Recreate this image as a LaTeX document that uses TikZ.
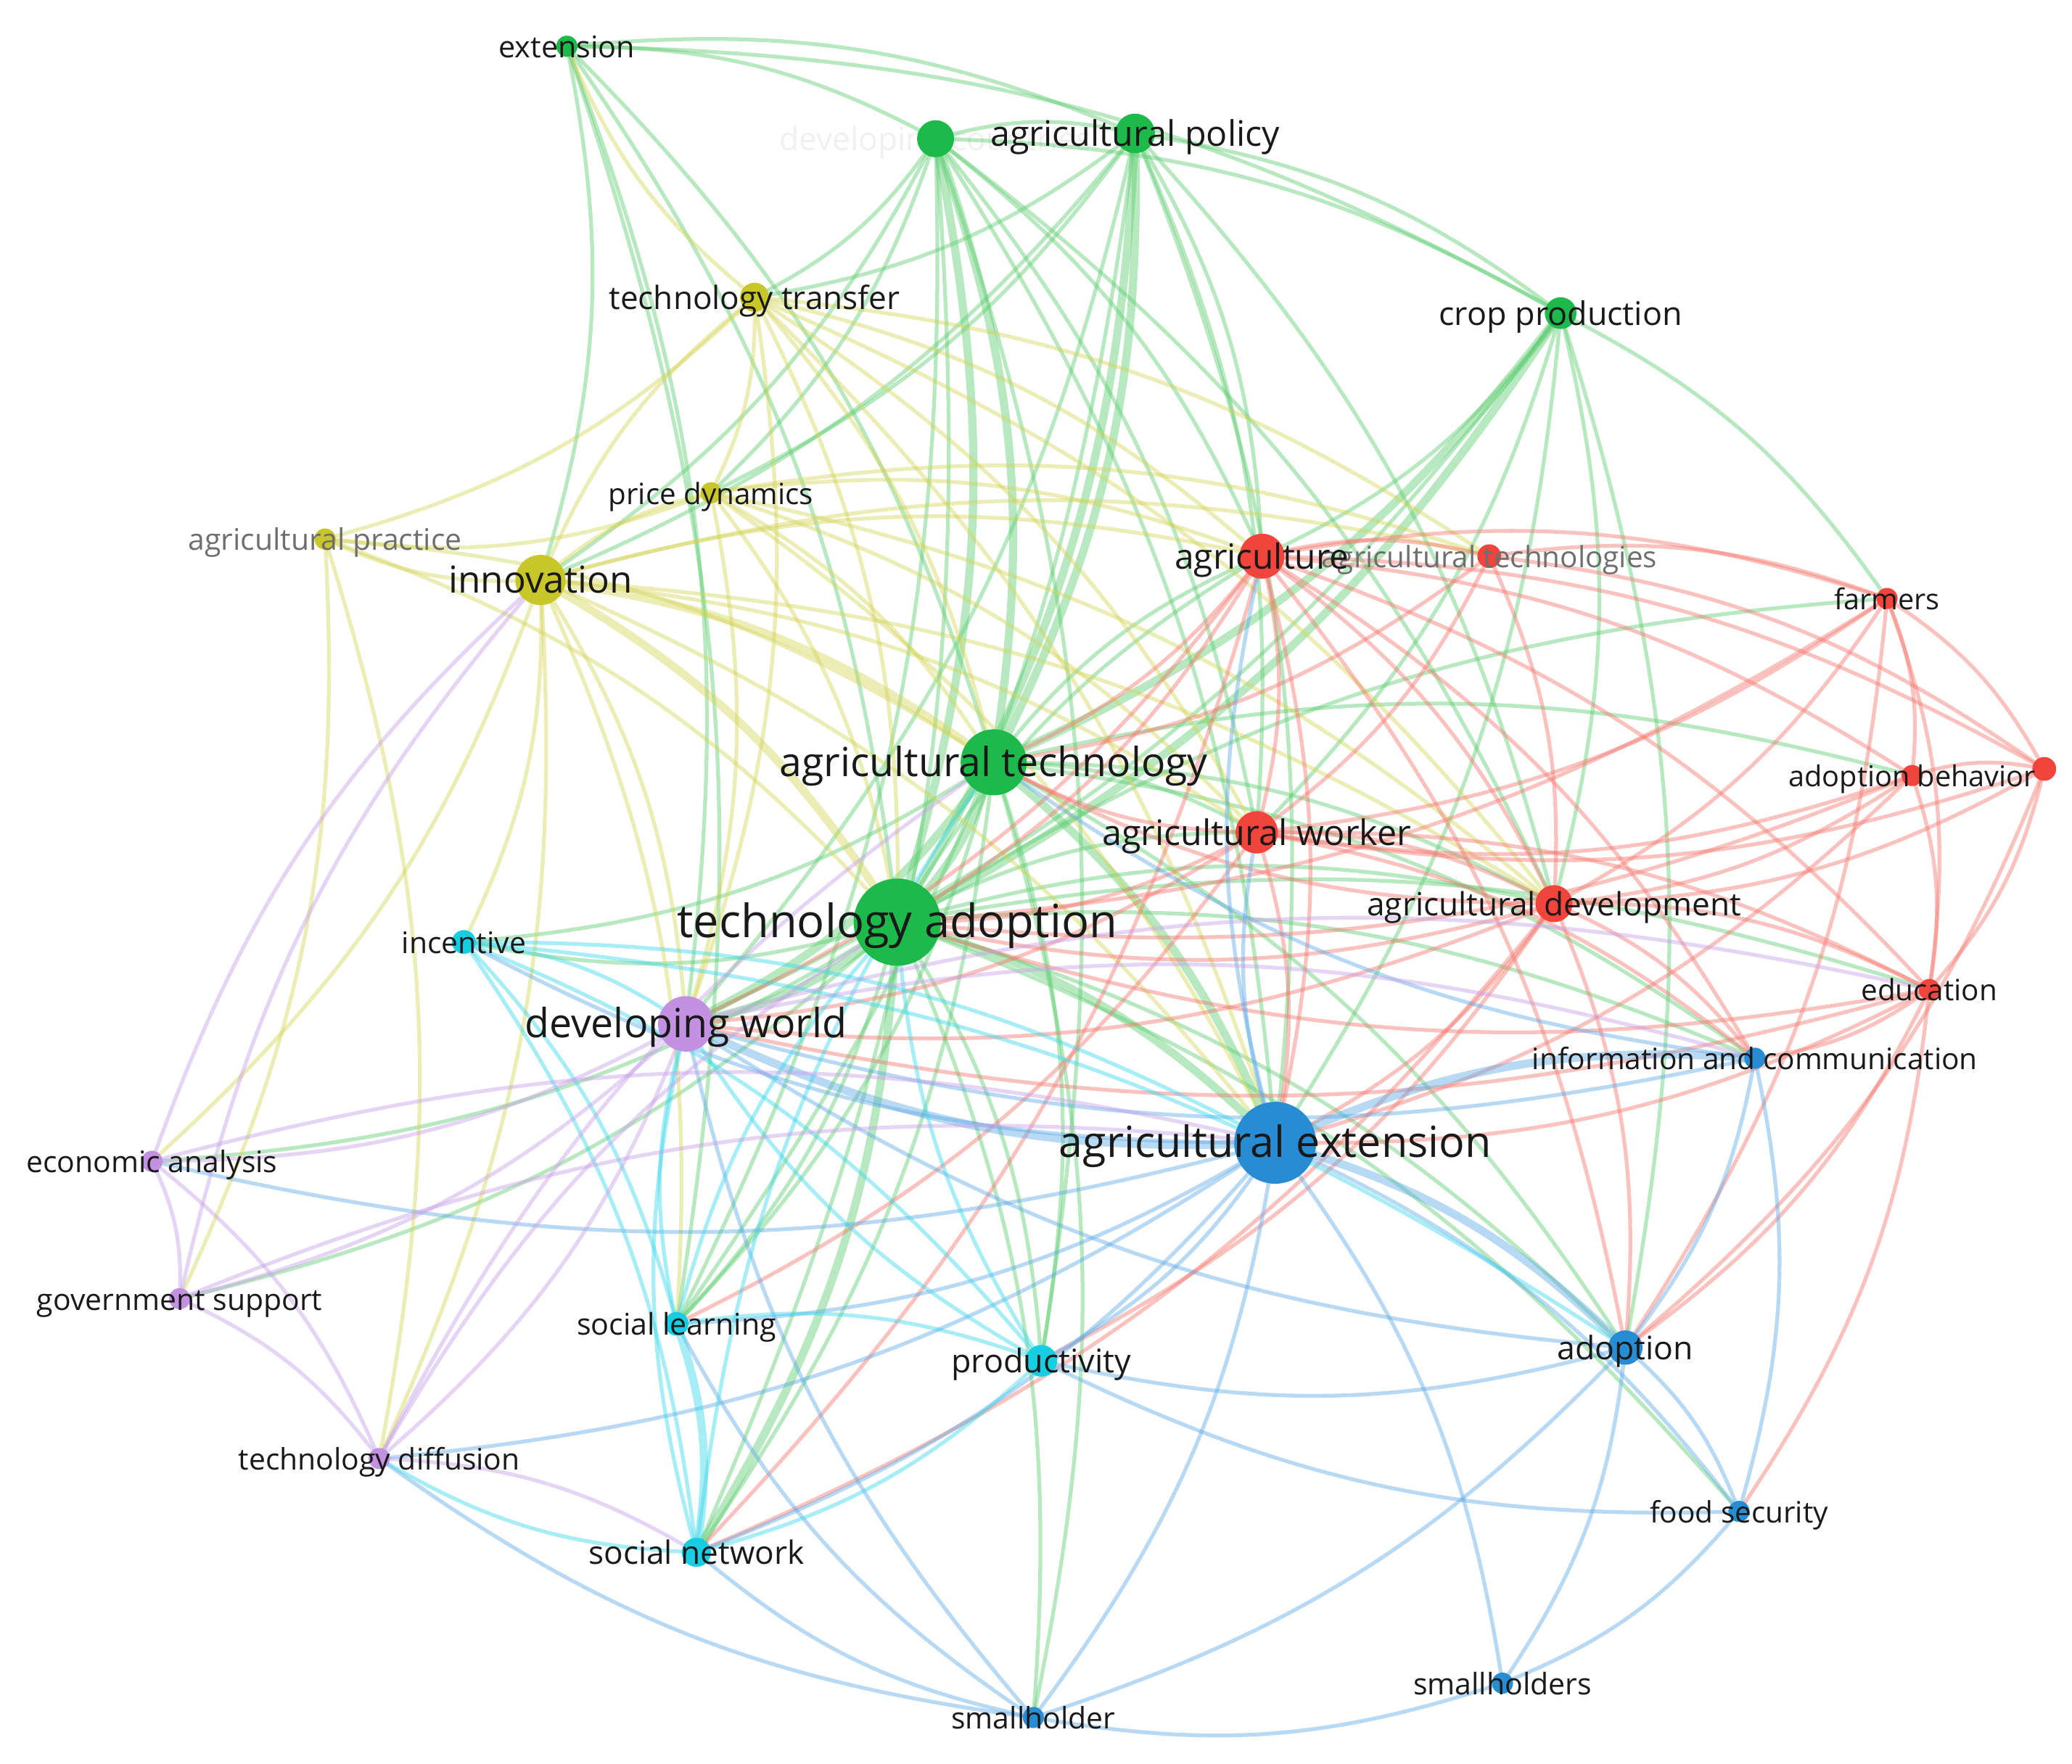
\documentclass[tikz,border=0pt]{standalone}
\usepackage{fontspec}
\setmainfont{Open Sans}
\usepackage{graphicx}
\newlength\ulen \setlength\ulen{0.018214cm}
\newcommand\lb[2]{\resizebox{#1\ulen}{!}{\strut #2}}
\definecolor{nG}{RGB}{30,185,75}
\definecolor{eG}{RGB}{95,205,115}
\definecolor{nY}{RGB}{200,198,40}
\definecolor{eY}{RGB}{212,212,90}
\definecolor{nR}{RGB}{240,68,60}
\definecolor{eR}{RGB}{245,120,110}
\definecolor{nB}{RGB}{40,140,210}
\definecolor{eB}{RGB}{95,170,230}
\definecolor{nC}{RGB}{22,205,225}
\definecolor{eC}{RGB}{60,215,235}
\definecolor{nP}{RGB}{195,145,225}
\definecolor{eP}{RGB}{200,160,232}
\definecolor{txt}{RGB}{25,25,25}
\definecolor{fade}{RGB}{110,110,110}
\pgfdeclarelayer{faint}
\pgfdeclarelayer{edges}
\pgfsetlayers{faint,edges,main}
\begin{document}
\begin{tikzpicture}[x=0.018214cm,y=-0.018214cm,
  kw/.style={circle,inner sep=0pt,draw=none},
  lbl/.style={inner sep=0pt,anchor=center,text=txt,yshift=-0.06cm},
  eg/.style={line width=1.5pt,opacity=0.45},
  ek/.style={line width=3.2pt,opacity=0.45}]
\useasboundingbox (0,0) rectangle (1568,1335);
\newcommand\kwn[5]{\node[kw,fill=#5,minimum size={2*#4*\ulen}] (#1) at (#2,#3) {};}
% nodes
\kwn{ext}{429}{35}{8}{nG}
\kwn{dc}{708}{105}{14}{nG}
\kwn{apol}{859}{101}{15}{nG}
\kwn{cp}{1181}{237}{12}{nG}
\kwn{at}{752}{577}{25}{nG}
\kwn{ta}{679}{698}{33}{nG}
\kwn{tt}{571}{225}{11}{nY}
\kwn{pd}{538}{373}{8}{nY}
\kwn{aprac}{246}{408}{8}{nY}
\kwn{inn}{409}{439}{19}{nY}
\kwn{agr}{955}{421}{17}{nR}
\kwn{atech}{1127}{421}{9}{nR}
\kwn{farm}{1428}{453}{8}{nR}
\kwn{abeh}{1447}{587}{8}{nR}
\kwn{unk}{1547}{582}{9}{nR}
\kwn{aw}{951}{630}{16}{nR}
\kwn{adev}{1176}{684}{14}{nR}
\kwn{edu}{1460}{749}{8}{nR}
\kwn{ae}{965}{865}{31}{nB}
\kwn{ict}{1328}{801}{8}{nB}
\kwn{adop}{1230}{1020}{13}{nB}
\kwn{fs}{1316}{1144}{8}{nB}
\kwn{shs}{1137}{1274}{8}{nB}
\kwn{sh}{782}{1300}{8}{nB}
\kwn{inc}{351}{713}{9}{nC}
\kwn{sl}{512}{1002}{9}{nC}
\kwn{prod}{788}{1030}{12}{nC}
\kwn{sn}{527}{1175}{11}{nC}
\kwn{dw}{519}{775}{21}{nP}
\kwn{ea}{115}{879}{8}{nP}
\kwn{gs}{136}{983}{8}{nP}
\kwn{td}{287}{1104}{8}{nP}
\begin{pgfonlayer}{faint}
\node[lbl,text=black!6] (dc-l) at (dc) {\lb{236}{developing countries}};
\end{pgfonlayer}
% edges
\begin{pgfonlayer}{edges}
\foreach \a/\b in {ext/dc,ext/apol,ext/cp,ext/inn,ext/ta,ext/at,ext/dw,ext/sl,dc/apol,dc/cp,dc/tt,dc/pd,dc/agr,dc/aw,dc/ae,dc/adev,dc/sl,dc/sn,dc/prod,dc/inn,apol/cp,apol/inn,apol/agr,apol/aw,apol/ae,apol/adev,apol/dw,apol/sl,apol/pd,apol/tt,cp/agr,cp/aw,cp/adev,cp/ae,cp/adop,cp/farm,cp/dw,at/inc,at/sl,at/sn,at/prod,at/ict,at/adop,at/sh,at/agr,at/aw,at/adev,at/abeh,ta/inc,ta/sl,ta/prod,ta/sh,ta/adop,ta/fs,ta/ict,ta/ea,ta/gs,ta/agr,ta/aw,ta/adev,ta/edu,ta/farm}
  \draw[eg,draw=eG] (\a.center) to[bend left=14] (\b.center);
\foreach \a/\b in {dc/at,dc/ta,apol/at,apol/ta,cp/at,cp/ta,at/ta,at/ae,ta/ae,ta/dw,at/dw,ta/sn}
  \draw[ek,draw=eG] (\a.center) to[bend left=14] (\b.center);
\foreach \a/\b in {inn/tt,inn/pd,inn/aprac,inn/agr,inn/aw,inn/adev,inn/ae,inn/dw,inn/inc,inn/sl,inn/ea,inn/td,inn/atech,tt/pd,tt/aprac,tt/agr,tt/aw,tt/adev,tt/atech,tt/dw,tt/ae,tt/at,tt/ta,tt/ext,pd/aprac,pd/agr,pd/aw,pd/adev,pd/atech,pd/ae,pd/dw,pd/at,pd/ta,aprac/td,aprac/gs,aprac/ta,aprac/at}
  \draw[eg,draw=eY] (\a.center) to[bend left=14] (\b.center);
\foreach \a/\b in {inn/ta,inn/at}
  \draw[ek,draw=eY] (\a.center) to[bend left=14] (\b.center);
\foreach \a/\b in {agr/atech,agr/farm,agr/abeh,agr/unk,agr/aw,agr/adev,agr/edu,agr/ae,agr/ict,agr/dw,agr/adop,agr/sn,agr/at,agr/ta,atech/farm,atech/aw,atech/adev,atech/unk,atech/at,farm/abeh,farm/unk,farm/edu,farm/adev,farm/aw,farm/adop,farm/ta,abeh/unk,abeh/aw,abeh/adev,abeh/edu,abeh/ae,abeh/ta,unk/aw,unk/adev,unk/edu,unk/adop,aw/adev,aw/edu,aw/ae,aw/dw,aw/ict,aw/sl,aw/at,aw/ta,adev/edu,adev/ae,adev/ict,adev/adop,adev/dw,adev/sn,adev/prod,adev/at,adev/ta,edu/ae,edu/ict,edu/adop,edu/fs,edu/dw,edu/ta}
  \draw[eg,draw=eR] (\a.center) to[bend left=14] (\b.center);
\foreach \a/\b in {ae/fs,ae/shs,ae/sh,ae/sn,ae/prod,ae/sl,ae/inc,ae/ea,ae/td,ae/agr,ae/aw,ict/adop,ict/fs,adop/fs,adop/shs,adop/prod,adop/sh,adop/dw,fs/shs,fs/prod,shs/sh,sh/sn,sh/sl,sh/td,sh/dw,ict/at,ict/dw}
  \draw[eg,draw=eB] (\a.center) to[bend left=14] (\b.center);
\foreach \a/\b in {ae/ict,ae/adop,ae/dw}
  \draw[ek,draw=eB] (\a.center) to[bend left=14] (\b.center);
\foreach \a/\b in {inc/dw,inc/sl,inc/sn,inc/prod,inc/adop,sl/prod,sl/dw,prod/sn,prod/dw,sn/dw,sn/td,sl/ta,prod/ta,sn/at,inc/ae}
  \draw[eg,draw=eC] (\a.center) to[bend left=14] (\b.center);
\foreach \a/\b in {sl/sn}
  \draw[ek,draw=eC] (\a.center) to[bend left=14] (\b.center);
\foreach \a/\b in {dw/ea,dw/gs,dw/td,dw/ict,dw/edu,ea/gs,ea/td,ea/ae,gs/td,gs/ae,td/sn,ea/inn,gs/inn,td/ta,td/at}
  \draw[eg,draw=eP] (\a.center) to[bend left=14] (\b.center);
\end{pgfonlayer}
% labels
\node[lbl] (ext-l) at (ext) {\lb{103}{extension}};
\node[lbl] (apol-l) at (apol) {\lb{219}{agricultural policy}};
\node[lbl] (cp-l) at (cp) {\lb{184}{crop production}};
\node[lbl] (at-l) at (at) {\lb{324}{agricultural technology}};
\node[lbl] (ta-l) at (ta) {\lb{333}{technology adoption}};
\node[lbl] (tt-l) at (tt) {\lb{220}{technology transfer}};
\node[lbl] (pd-l) at (pd) {\lb{155}{price dynamics}};
\node[lbl,text=fade] (aprac-l) at (aprac) {\lb{207}{agricultural practice}};
\node[lbl] (inn-l) at (inn) {\lb{139}{innovation}};
\node[lbl,text=fade] (atech-l) at (atech) {\lb{254}{agricultural technologies}};
\node[lbl] (agr-l) at (agr) {\lb{132}{agriculture}};
\node[lbl] (farm-l) at (farm) {\lb{80}{farmers}};
\node[lbl] (abeh-l) at (abeh) {\lb{187}{adoption behavior}};
\node[lbl] (aw-l) at (aw) {\lb{234}{agricultural worker}};
\node[lbl] (adev-l) at (adev) {\lb{283}{agricultural development}};
\node[lbl] (edu-l) at (edu) {\lb{103}{education}};
\node[lbl] (ae-l) at (ae) {\lb{327}{agricultural extension}};
\node[lbl] (ict-l) at (ict) {\lb{337}{information and communication}};
\node[lbl] (adop-l) at (adop) {\lb{103}{adoption}};
\node[lbl] (fs-l) at (fs) {\lb{135}{food security}};
\node[lbl] (shs-l) at (shs) {\lb{135}{smallholders}};
\node[lbl] (sh-l) at (sh) {\lb{124}{smallholder}};
\node[lbl] (inc-l) at (inc) {\lb{94}{incentive}};
\node[lbl] (sl-l) at (sl) {\lb{151}{social learning}};
\node[lbl] (prod-l) at (prod) {\lb{136}{productivity}};
\node[lbl] (sn-l) at (sn) {\lb{163}{social network}};
\node[lbl] (dw-l) at (dw) {\lb{244}{developing world}};
\node[lbl] (ea-l) at (ea) {\lb{190}{economic analysis}};
\node[lbl] (gs-l) at (gs) {\lb{216}{government support}};
\node[lbl] (td-l) at (td) {\lb{213}{technology diffusion}};
\end{tikzpicture}
\end{document}
